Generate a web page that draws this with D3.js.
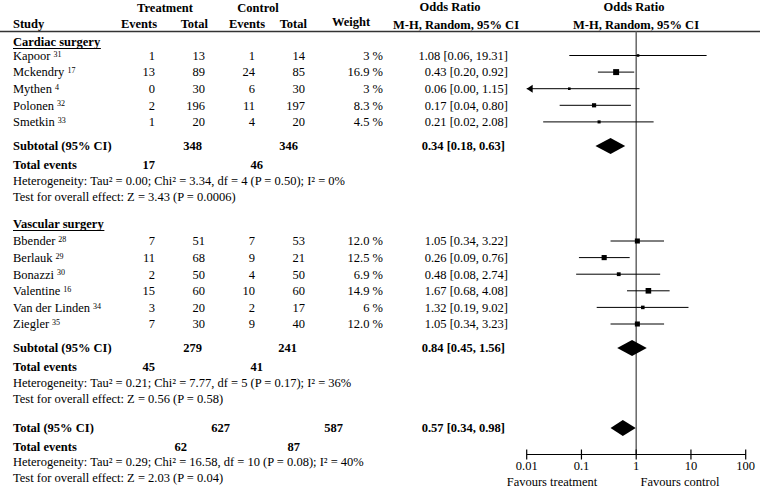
<!DOCTYPE html>
<html><head><meta charset="utf-8">
<script src="https://cdn.jsdelivr.net/npm/d3@7"></script>
<style>
body{margin:0;background:#fff;}
svg text{font-family:"Liberation Serif","Times New Roman",serif;font-size:12.5px;fill:#000;}
</style></head><body>
<svg id="c" width="760" height="490"></svg>
<script>
// ---- data ----
const groups = ["Cardiac surgery", "Vascular surgery"];
const cardiacStudies = ["Kapoor", "Mckendry", "Mythen", "Polonen", "Smetkin"];
const cardiacRefs = ["31", "17", "4", "32", "33"];
const cardiacTEvents = [1, 13, 0, 2, 1];
const cardiacTTotal = [13, 89, 30, 196, 20];
const cardiacCEvents = [1, 24, 6, 11, 4];
const cardiacCTotal = [14, 85, 30, 197, 20];
const cardiacWeight = ["3", "16.9", "3", "8.3", "4.5"];
const cardiacOR = [1.08, 0.43, 0.06, 0.17, 0.21];
const cardiacLo = [0.06, 0.20, 0.00, 0.04, 0.02];
const cardiacHi = [19.31, 0.92, 1.15, 0.80, 2.08];
const cardiacSub = {or: 0.34, lo: 0.18, hi: 0.63, tTotal: 348, cTotal: 346, tEv: 17, cEv: 46,
  het: "Heterogeneity: Tau² = 0.00; Chi² = 3.34, df = 4 (P = 0.50); I² = 0%",
  test: "Test for overall effect: Z = 3.43 (P = 0.0006)"};

const vascularStudies = ["Bbender", "Berlauk", "Bonazzi", "Valentine", "Van der Linden", "Ziegler"];
const vascularRefs = ["28", "29", "30", "16", "34", "35"];
const vascularTEvents = [7, 11, 2, 15, 3, 7];
const vascularTTotal = [51, 68, 50, 60, 20, 30];
const vascularCEvents = [7, 9, 4, 10, 2, 9];
const vascularCTotal = [53, 21, 50, 60, 17, 40];
const vascularWeight = ["12.0", "12.5", "6.9", "14.9", "6", "12.0"];
const vascularOR = [1.05, 0.26, 0.48, 1.67, 1.32, 1.05];
const vascularLo = [0.34, 0.09, 0.08, 0.68, 0.19, 0.34];
const vascularHi = [3.22, 0.76, 2.74, 4.08, 9.02, 3.23];
const vascularSub = {or: 0.84, lo: 0.45, hi: 1.56, tTotal: 279, cTotal: 241, tEv: 45, cEv: 41,
  het: "Heterogeneity: Tau² = 0.21; Chi² = 7.77, df = 5 (P = 0.17); I² = 36%",
  test: "Test for overall effect: Z = 0.56 (P = 0.58)"};

const overall = {or: 0.57, lo: 0.34, hi: 0.98, tTotal: 627, cTotal: 587, tEv: 62, cEv: 87,
  het: "Heterogeneity: Tau² = 0.29; Chi² = 16.58, df = 10 (P = 0.08); I² = 40%",
  test: "Test for overall effect: Z = 2.03 (P = 0.04)"};

const axisTicks = [0.01, 0.1, 1, 10, 100];
const axisTickLabels = ["0.01", "0.1", "1", "10", "100"];
const favourLabels = ["Favours treatment", "Favours control"];

// ---- drawing ----
const svg = d3.select("#c");
const x = d3.scaleLog().domain([0.01, 100]).range([526.7, 745.7]);
const fmt = d3.format(".2f");
const ciText = (o, l, h) => `${fmt(o)} [${fmt(l)}, ${fmt(h)}]`;

function txt(t, xx, yy, anchor, bold) {
  return svg.append("text").attr("x", xx).attr("y", yy).attr("dy", "0.35em")
    .attr("text-anchor", anchor || "start").attr("font-weight", bold ? "bold" : null).text(t);
}

// headers
txt("Treatment", 165, 8, "middle", true);
txt("Control", 258, 8, "middle", true);
txt("Study", 13, 24, "start", true);
txt("Events", 157, 24, "end", true);
txt("Total", 208, 24, "end", true);
txt("Events", 265, 24, "end", true);
txt("Total", 307, 24, "end", true);
txt("Weight", 351, 22, "middle", true);
txt("Odds Ratio", 450, 7, "middle", true);
txt("M-H, Random, 95% CI", 456, 25, "middle", true);
txt("Odds Ratio", 634, 7, "middle", true);
txt("M-H, Random, 95% CI", 636, 25, "middle", true);
svg.append("line").attr("x1", 0).attr("x2", 760).attr("y1", 31.5).attr("y2", 31.5)
  .attr("stroke", "#333").attr("stroke-width", 1.3);

// null line
svg.append("line").attr("x1", x(1)).attr("x2", x(1)).attr("y1", 31.5).attr("y2", 454.5)
  .attr("stroke", "#666").attr("stroke-width", 1.5);

function section(title, ty, rowY0, studies, refs, te, tt, ce, ct, w, or, lo, hi, sub, subY, pos) {
  const t = txt(title, 13, ty, "start", true);
  const bb = t.node().getBBox();
  svg.append("line").attr("x1", bb.x).attr("x2", bb.x + bb.width)
    .attr("y1", ty + 6.5).attr("y2", ty + 6.5).attr("stroke", "#000").attr("stroke-width", 1);
  studies.forEach((s, i) => {
    const y = rowY0 + i * 16.6;
    const st = txt(s, 13, y, "start", false);
    st.append("tspan").attr("font-size", "8px").attr("dy", "-0.4em").attr("dx", "3").text(refs[i]);
    txt(te[i], 155, y, "end");
    txt(tt[i], 205, y, "end");
    txt(ce[i], 255, y, "end");
    txt(ct[i], 305, y, "end");
    txt(w[i] + " %", 383, y, "end");
    txt(ciText(or[i], lo[i], hi[i]), 508, y, "end");
    // CI line
    const loC = Math.max(lo[i], 0.01), hiC = Math.min(hi[i], 100);
    svg.append("line").attr("x1", x(loC)).attr("x2", x(hiC)).attr("y1", y).attr("y2", y)
      .attr("stroke", "#000").attr("stroke-width", 1);
    if (lo[i] < 0.01) {
      const ax = x(0.01);
      svg.append("path").attr("d", `M${ax},${y} L${ax + 6},${y - 4} L${ax + 6},${y + 4} Z`).attr("fill", "#000");
    }
    const sz = Math.max(2.6, Math.sqrt(+w[i]) * 1.45);
    svg.append("rect").attr("x", x(or[i]) - sz / 2).attr("y", y - sz / 2)
      .attr("width", sz).attr("height", sz).attr("fill", "#000");
  });
  summary("Subtotal (95% CI)", sub, subY, pos);
  txt(sub.het, 13, subY + 35, "start");
  txt(sub.test, 13, subY + 51, "start");
}

function summary(label, s, y, pos) {
  txt(label, 13, y, "start", true);
  txt(s.tTotal, pos[0], y, "end", true);
  txt(s.cTotal, pos[1], y, "end", true);
  txt(ciText(s.or, s.lo, s.hi), 505, y, "end", true);
  txt("Total events", 13, y + 19, "start", true);
  txt(s.tEv, pos[2], y + 19, "end", true);
  txt(s.cEv, pos[3], y + 19, "end", true);
  const h = 8;
  svg.append("path")
    .attr("d", `M${x(s.lo)},${y} L${x(s.or)},${y - h} L${x(s.hi)},${y} L${x(s.or)},${y + h} Z`)
    .attr("fill", "#000");
}

section(groups[0], 42, 55.5, cardiacStudies, cardiacRefs, cardiacTEvents, cardiacTTotal,
  cardiacCEvents, cardiacCTotal, cardiacWeight, cardiacOR, cardiacLo, cardiacHi, cardiacSub, 146, [202, 298, 155, 263]);
section(groups[1], 224, 241, vascularStudies, vascularRefs, vascularTEvents, vascularTTotal,
  vascularCEvents, vascularCTotal, vascularWeight, vascularOR, vascularLo, vascularHi, vascularSub, 348, [202, 297, 155, 263]);

summary("Total (95% CI)", overall, 428, [230, 343, 187, 300]);
txt(overall.het, 13, 462, "start");
txt(overall.test, 13, 478, "start");

// axis
const axY = 454.5;
svg.append("line").attr("x1", x(0.01)).attr("x2", x(100)).attr("y1", axY).attr("y2", axY)
  .attr("stroke", "#000").attr("stroke-width", 1.2);
axisTicks.forEach((t, i) => {
  svg.append("line").attr("x1", x(t)).attr("x2", x(t)).attr("y1", axY - 5).attr("y2", axY + 5)
    .attr("stroke", "#000").attr("stroke-width", 1.2);
  txt(axisTickLabels[i], x(t), 466, "middle");
});
txt(favourLabels[0], 552, 482, "middle");
txt(favourLabels[1], 680, 482, "middle");
</script></body></html>
